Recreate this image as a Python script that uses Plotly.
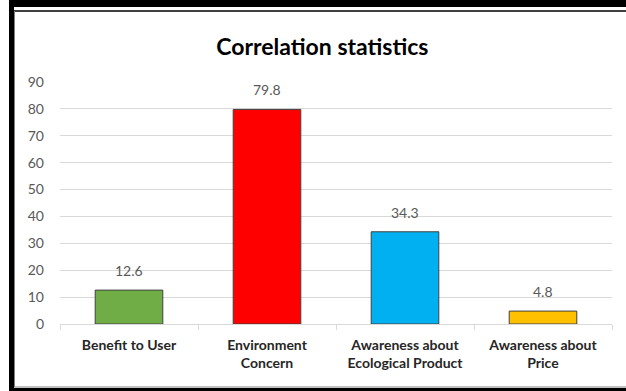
import plotly.graph_objects as go

categories = ["Benefit to User", "Environment<br>Concern",
              "Awareness about<br>Ecological Product", "Awareness about<br>Price"]
values = [12.6, 79.8, 34.3, 4.8]
colors = ["#70AD47", "#FF0000", "#00B0F0", "#FFC000"]
y_ticks = [0, 10, 20, 30, 40, 50, 60, 70, 80, 90]

W, H = 626, 391
M = dict(l=60, r=14, t=82, b=67)
pw = W - M["l"] - M["r"]
ph = H - M["t"] - M["b"]


def px_x(x):
    return (x - M["l"]) / pw


def px_y(y):
    return (H - M["b"] - y) / ph


fig = go.Figure()
fig.add_trace(go.Bar(
    x=categories, y=values,
    marker=dict(color=colors, line=dict(color="#404040", width=1)),
    width=0.49,
))

for c, v in zip(categories, values):
    fig.add_annotation(x=c, y=v, text=f"{v}", showarrow=False,
                       yanchor="bottom", yshift=9,
                       font=dict(family="Lato, sans-serif", size=14, color="#595959"))

# outer frame: heavy black band on top, left and bottom with thin grey inner rule
shapes = [
    dict(type="rect", xref="paper", yref="paper",
         x0=px_x(9), x1=px_x(W), y0=px_y(0), y1=px_y(7),
         fillcolor="black", line=dict(width=0), layer="above"),
    dict(type="rect", xref="paper", yref="paper",
         x0=px_x(9), x1=px_x(14), y0=px_y(0), y1=px_y(H),
         fillcolor="black", line=dict(width=0), layer="above"),
    dict(type="rect", xref="paper", yref="paper",
         x0=px_x(9), x1=px_x(W), y0=px_y(388), y1=px_y(H),
         fillcolor="black", line=dict(width=0), layer="above"),
    dict(type="line", xref="paper", yref="paper",
         x0=px_x(14), x1=px_x(W), y0=px_y(11), y1=px_y(11),
         line=dict(color="#404040", width=2), layer="above"),
    dict(type="line", xref="paper", yref="paper",
         x0=px_x(14.5), x1=px_x(14.5), y0=px_y(11), y1=px_y(387),
         line=dict(color="#808080", width=1), layer="above"),
    dict(type="line", xref="paper", yref="paper",
         x0=px_x(14), x1=px_x(W), y0=px_y(387), y1=px_y(387),
         line=dict(color="#808080", width=1), layer="above"),
]

fig.update_layout(
    width=W, height=H, margin=M,
    paper_bgcolor="white", plot_bgcolor="white",
    showlegend=False,
    shapes=shapes,
    title=dict(text="<b>Correlation statistics</b>", x=0.515, xanchor="center",
               y=1 - 47 / H, yanchor="middle",
               font=dict(family="Lato, sans-serif", size=23, color="black")),
    xaxis=dict(
        tickson="boundaries", ticks="outside", ticklen=5, tickcolor="#d9d9d9",
        showline=True, linecolor="#d9d9d9", linewidth=1, showgrid=False,
        ticklabelstandoff=8,
        tickfont=dict(family="Lato, sans-serif", size=14, color="#262626", weight="bold"),
    ),
    yaxis=dict(
        range=[0, 90], tickvals=y_ticks, showgrid=True, gridcolor="#d9d9d9",
        gridwidth=1, zeroline=False, showline=False, ticks="",
        ticklabelstandoff=15,
        tickfont=dict(family="Lato, sans-serif", size=14, color="#595959"),
    ),
    bargap=0.51,
)

# keep the page exactly figure-sized, without scrollbars
page_css = ("document.documentElement.style.overflow='hidden';"
            "document.body.style.margin='0';"
            "document.body.style.overflow='hidden';")

fig.write_html("out.html", config={"displayModeBar": False}, post_script=page_css)
